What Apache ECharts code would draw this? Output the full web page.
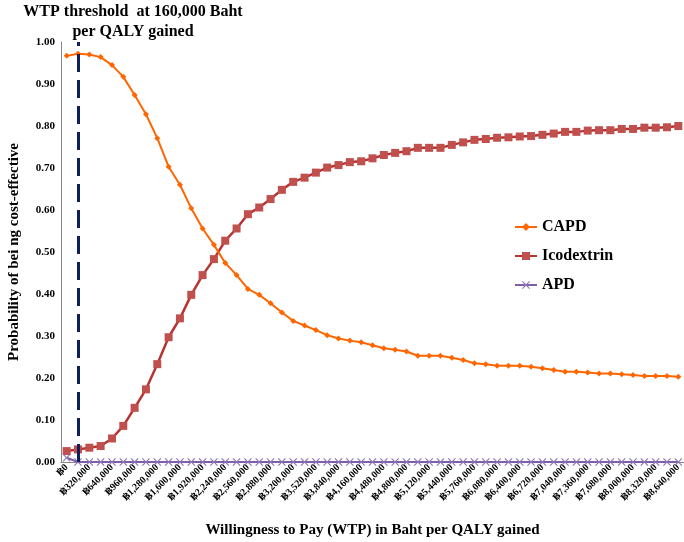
<!DOCTYPE html>
<html>
<head>
<meta charset="utf-8">
<script src="https://cdn.jsdelivr.net/npm/echarts@6/dist/echarts.min.js"></script>
<style>
    html, body { margin: 0; padding: 0; background: #fff; }
    #main { width: 684px; height: 542px; }
</style>
</head>
<body>
<div id="main"></div>
<script>
// WTP values (Baht per QALY gained)
var categories = ['฿0', '฿160,000', '฿320,000', '฿480,000', '฿640,000', '฿800,000', '฿960,000', '฿1,120,000',
    '฿1,280,000', '฿1,440,000', '฿1,600,000', '฿1,760,000', '฿1,920,000', '฿2,080,000', '฿2,240,000',
    '฿2,400,000', '฿2,560,000', '฿2,720,000', '฿2,880,000', '฿3,040,000', '฿3,200,000', '฿3,360,000',
    '฿3,520,000', '฿3,680,000', '฿3,840,000', '฿4,000,000', '฿4,160,000', '฿4,320,000', '฿4,480,000',
    '฿4,640,000', '฿4,800,000', '฿4,960,000', '฿5,120,000', '฿5,280,000', '฿5,440,000', '฿5,600,000',
    '฿5,760,000', '฿5,920,000', '฿6,080,000', '฿6,240,000', '฿6,400,000', '฿6,560,000', '฿6,720,000',
    '฿6,880,000', '฿7,040,000', '฿7,200,000', '฿7,360,000', '฿7,520,000', '฿7,680,000', '฿7,840,000',
    '฿8,000,000', '฿8,160,000', '฿8,320,000', '฿8,480,000', '฿8,640,000'];

var capd = [0.967, 0.972, 0.970, 0.964, 0.945, 0.917, 0.874, 0.828, 0.771, 0.703,
    0.660, 0.604, 0.556, 0.517, 0.474, 0.445, 0.412, 0.398, 0.378, 0.356,
    0.336, 0.325, 0.314, 0.302, 0.294, 0.289, 0.285, 0.278, 0.271, 0.267,
    0.263, 0.253, 0.253, 0.253, 0.248, 0.243, 0.235, 0.233, 0.229, 0.229,
    0.229, 0.227, 0.223, 0.219, 0.215, 0.215, 0.213, 0.211, 0.211, 0.209,
    0.207, 0.205, 0.205, 0.205, 0.203];

var icodextrin = [0.026, 0.030, 0.034, 0.038, 0.056, 0.086, 0.129, 0.173, 0.233, 0.297,
    0.342, 0.398, 0.445, 0.483, 0.527, 0.556, 0.590, 0.606, 0.626, 0.648,
    0.667, 0.677, 0.689, 0.701, 0.707, 0.714, 0.716, 0.723, 0.731, 0.736,
    0.740, 0.748, 0.748, 0.748, 0.755, 0.761, 0.767, 0.769, 0.772, 0.773,
    0.775, 0.776, 0.779, 0.782, 0.786, 0.786, 0.789, 0.790, 0.790, 0.793,
    0.793, 0.796, 0.796, 0.797, 0.800];

var apd = [0.01, 0, 0, 0, 0, 0, 0, 0, 0, 0,
    0, 0, 0, 0, 0, 0, 0, 0, 0, 0,
    0, 0, 0, 0, 0, 0, 0, 0, 0, 0,
    0, 0, 0, 0, 0, 0, 0, 0, 0, 0,
    0, 0, 0, 0, 0, 0, 0, 0, 0, 0,
    0, 0, 0, 0, 0];

var threshold = '฿160,000';

var serif = '"Liberation Serif", "DejaVu Serif", serif';
var xMark = 'path://M0,1L1,0L5,4L9,0L10,1L6,5L10,9L9,10L5,6L1,10L0,9L4,5Z';

var myChart = echarts.init(document.getElementById('main'));

var option = {
    animation: false,
    title: {
        text: 'WTP threshold  at 160,000 Baht\nper QALY gained',
        left: 128,
        top: -3,
        textAlign: 'center',
        textStyle: {
            fontFamily: serif,
            fontWeight: 'bold',
            fontSize: 16,
            lineHeight: 20,
            color: '#000'
        }
    },
    legend: {
        orient: 'vertical',
        left: 509,
        top: 214,
        itemWidth: 22,
        itemHeight: 10,
        itemGap: 13,
        data: ['CAPD', 'Icodextrin', 'APD'],
        textStyle: {
            fontFamily: serif,
            fontWeight: 'bold',
            fontSize: 16,
            color: '#000'
        }
    },
    grid: {
        left: 61,
        right: 0,
        top: 42,
        bottom: 80,
        outerBoundsMode: 'none'
    },
    xAxis: {
        type: 'category',
        data: categories,
        boundaryGap: true,
        name: 'Willingness to Pay (WTP) in Baht per QALY gained',
        nameLocation: 'middle',
        nameGap: 61,
        nameTextStyle: {
            fontFamily: serif,
            fontWeight: 'bold',
            fontSize: 15,
            color: '#000'
        },
        axisLine: { lineStyle: { color: '#868686' } },
        axisTick: { show: false },
        axisLabel: {
            interval: 1,
            rotate: 45,
            margin: 4,
            fontFamily: serif,
            fontWeight: 'bold',
            fontSize: 10,
            color: '#000'
        }
    },
    yAxis: {
        type: 'value',
        min: 0,
        max: 1,
        interval: 0.1,
        name: 'Probability of bei ng cost-effective',
        nameLocation: 'middle',
        nameGap: 39,
        nameTextStyle: {
            fontFamily: serif,
            fontWeight: 'bold',
            fontSize: 15,
            color: '#000'
        },
        axisLine: { show: true, lineStyle: { color: '#868686' } },
        axisTick: { show: false },
        splitLine: { show: false },
        axisLabel: {
            margin: 6,
            fontFamily: serif,
            fontWeight: 'bold',
            fontSize: 11,
            color: '#000',
            formatter: function (v) {
                return v.toFixed(2);
            }
        }
    },
    series: [
        {
            name: 'CAPD',
            type: 'line',
            data: capd,
            symbol: 'diamond',
            symbolSize: 6,
            showAllSymbol: true,
            lineStyle: { color: '#FF6600', width: 2 },
            itemStyle: { color: '#FF6600' },
            z: 3
        },
        {
            name: 'Icodextrin',
            type: 'line',
            data: icodextrin,
            symbol: 'rect',
            symbolSize: 8,
            showAllSymbol: true,
            lineStyle: { color: '#B83330', width: 2.5 },
            itemStyle: { color: '#C0504D' },
            z: 2
        },
        {
            name: 'APD',
            type: 'line',
            data: apd,
            symbol: xMark,
            symbolSize: 8,
            showAllSymbol: true,
            lineStyle: { color: '#7F60A8', width: 2 },
            itemStyle: { color: '#8E74B8' },
            z: 4,
            markLine: {
                silent: true,
                symbol: 'none',
                label: { show: false },
                lineStyle: {
                    color: '#0F1F5A',
                    width: 3,
                    type: [18, 8]
                },
                data: [{ xAxis: threshold }]
            }
        }
    ]
};

myChart.setOption(option);
</script>
</body>
</html>
